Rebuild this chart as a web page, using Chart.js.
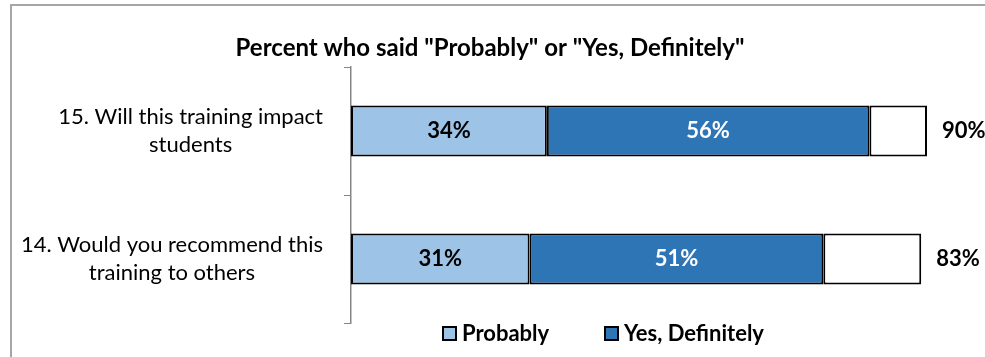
<!DOCTYPE html>
<html>
<head>
<meta charset="utf-8">
<script src="https://cdn.jsdelivr.net/npm/chart.js@4/dist/chart.umd.min.js"></script>
<style>
  html, body { margin: 0; padding: 0; background: #fff; }
  .wrap { position: relative; width: 985px; height: 357px; overflow: hidden; }
  .frame { position: absolute; left: 10px; top: 4px; width: 1000px; height: 400px;
           border-left: 2px solid #a6a6a6; border-top: 2px solid #a6a6a6; pointer-events: none; }
</style>
</head>
<body>
<div class="wrap">
  <canvas id="chart" width="985" height="357"></canvas>
  <div class="frame"></div>
</div>
<script>
// values
const categories = [
  ['15. Will this training impact', 'students'],
  ['14. Would you recommend this', 'training to others']
];
const probably   = [34, 31];
const definitely = [56, 51];
const remainder  = [10, 17];
const totals     = [90, 83];

const TITLE  = 'Percent who said "Probably" or "Yes, Definitely"';
const FONT   = 'Lato, "Liberation Sans", sans-serif';
const LIGHT  = '#9dc3e6';
const DARK   = '#2e75b6';
const AXIS   = '#868686';

// title, category labels, bar labels, totals and legend drawn by hand, Excel style
const decor = {
  id: 'decor',
  afterDraw(chart) {
    const ctx = chart.ctx, area = chart.chartArea, y = chart.scales.y;
    ctx.save();
    ctx.fillStyle = '#000';
    ctx.textBaseline = 'middle';

    ctx.font = `bold 24px ${FONT}`;
    ctx.textAlign = 'center';
    ctx.fillText(TITLE, 490, 48);

    // category labels: block right-aligned, lines centered within it
    ctx.font = `22px ${FONT}`;
    categories.forEach((lines, i) => {
      const cy = y.getPixelForValue(i);
      const w = Math.max(...lines.map(l => ctx.measureText(l).width));
      const cx = area.left - 28 - w / 2;
      lines.forEach((l, j) => ctx.fillText(l, cx, cy + (j - (lines.length - 1) / 2) * 28));
    });

    // segment labels
    ctx.font = `bold 22px ${FONT}`;
    [[0, '#000'], [1, '#fff']].forEach(([d, col]) => {
      ctx.fillStyle = col;
      chart.getDatasetMeta(d).data.forEach((bar, i) => {
        const v = chart.data.datasets[d].data[i];
        ctx.fillText(v + '%', (bar.x + bar.base) / 2, bar.y);
      });
    });

    // totals at the end of each bar
    ctx.fillStyle = '#000';
    ctx.textAlign = 'left';
    chart.getDatasetMeta(2).data.forEach((bar, i) => {
      ctx.fillText(totals[i] + '%', bar.x + 15, bar.y);
    });

    // legend
    const items = [['Probably', LIGHT, 442], ['Yes, Definitely', DARK, 604]];
    items.forEach(([txt, col, x]) => {
      ctx.fillStyle = col;
      ctx.fillRect(x + 1, 327, 13, 13);
      ctx.strokeStyle = '#000';
      ctx.lineWidth = 2;
      ctx.strokeRect(x + 1, 327, 13, 13);
      ctx.fillStyle = '#000';
      ctx.fillText(txt, x + 20, 334);
    });
    ctx.restore();
  }
};

new Chart(document.getElementById('chart'), {
  type: 'bar',
  data: {
    labels: categories,
    datasets: [
      { label: 'Probably',        data: probably,   backgroundColor: LIGHT },
      { label: 'Yes, Definitely', data: definitely, backgroundColor: DARK },
      { label: '',                data: remainder,  backgroundColor: '#fff' }
    ]
  },
  options: {
    indexAxis: 'y',
    responsive: false,
    animation: false,
    layout: { padding: { left: 0, right: 58, top: 67, bottom: 34 } },
    datasets: { bar: { barPercentage: 0.4, categoryPercentage: 1, borderColor: '#000', borderWidth: 2, borderSkipped: false } },
    plugins: { legend: { display: false }, title: { display: false }, tooltip: { enabled: false } },
    scales: {
      x: { stacked: true, min: 0, max: 100, display: false },
      y: {
        stacked: true,
        ticks: { display: false },
        grid: { drawOnChartArea: false, tickLength: 7, color: AXIS, offset: true },
        border: { display: true, color: AXIS, width: 1.5 },
        afterFit(scale) { scale.width = 351; }
      }
    }
  },
  plugins: [decor]
});
</script>
</body>
</html>
